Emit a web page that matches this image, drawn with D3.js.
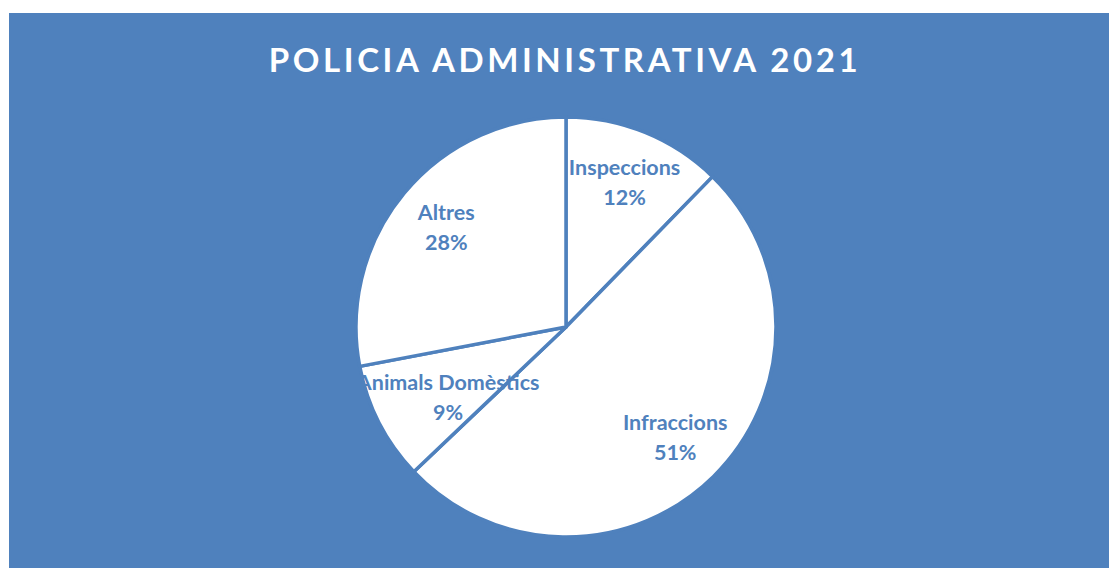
<!DOCTYPE html>
<html><head><meta charset="utf-8">
<script src="https://cdn.jsdelivr.net/npm/d3@7"></script>
<style>html,body{margin:0;padding:0;background:#fff;}</style>
</head><body>
<svg id="chart" width="1109" height="568"></svg>
<script>
const title = "POLICIA ADMINISTRATIVA 2021";
const categories = ["Inspeccions", "Infraccions", "Animals Domèstics", "Altres"];
const values = [12.3, 50.6, 9.1, 28.0];

const W = 1109, H = 568;
const blue = "#4F81BD";
const svg = d3.select("#chart");
svg.append("rect").attr("x", 9).attr("y", 13).attr("width", W - 9).attr("height", H - 13).attr("fill", blue);

svg.append("text").attr("x", 565).attr("y", 72).attr("text-anchor", "middle")
  .attr("fill", "#fff").attr("font-family", "Lato, 'Open Sans', sans-serif")
  .attr("font-weight", "bold").attr("font-size", 33).attr("letter-spacing", 3.6)
  .text(title);

const cx = 566, cy = 327, R = 210;
const total = d3.sum(values);
const data = categories.map((c, i) => ({cat: c, value: values[i]}));
const pie = d3.pie().value(d => d.value).sort(null);
const arcs = pie(data);
const arc = d3.arc().innerRadius(0).outerRadius(R);
const labelArc = d3.arc().innerRadius(R * 0.74).outerRadius(R * 0.74);

const g = svg.append("g").attr("transform", `translate(${cx},${cy})`);
g.selectAll("path").data(arcs).join("path")
  .attr("d", arc).attr("fill", "#fff").attr("stroke", blue).attr("stroke-width", 3.5)
  .attr("stroke-linejoin", "round");

const lbl = g.selectAll("text.lbl").data(arcs).join("text").attr("class", "lbl")
  .attr("text-anchor", "middle").attr("fill", blue)
  .attr("font-family", "Lato, 'Open Sans', sans-serif").attr("font-weight", "bold").attr("font-size", 21.5);
lbl.append("tspan").attr("x", 0).attr("dy", -8).text(d => d.data.cat);
lbl.append("tspan").attr("x", 0).attr("dy", 30).text(d => Math.round(d.data.value / total * 100) + "%");
lbl.attr("transform", function(d) {
  let [x, y] = labelArc.centroid(d);
  const w = this.getBBox().width;
  const half = Math.sqrt(Math.max(0, R * R - y * y));
  if (x - w / 2 < -half - 12) x = -half - 12 + w / 2;
  if (x + w / 2 > half + 12) x = half + 12 - w / 2;
  return `translate(${x},${y})`;
});
</script>
</body></html>
